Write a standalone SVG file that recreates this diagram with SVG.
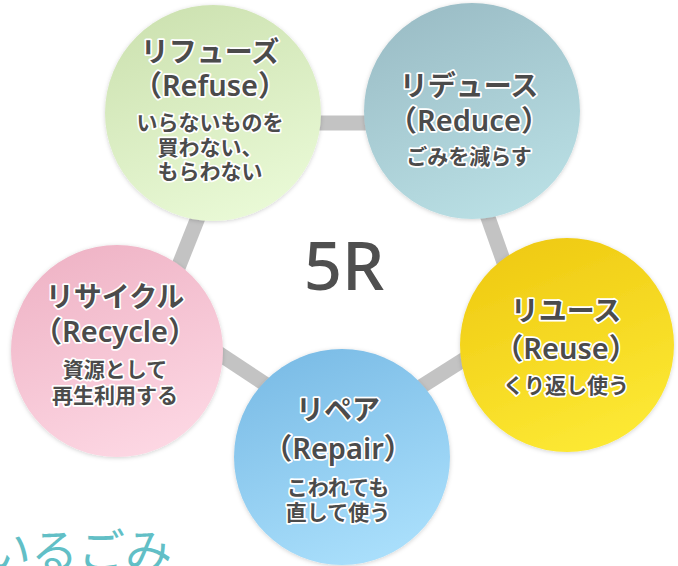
<svg xmlns="http://www.w3.org/2000/svg" width="678" height="566" viewBox="0 0 678 566">
<defs>
<linearGradient id="gRefuse" x1="0.3" y1="0" x2="0.7" y2="1"><stop offset="0" stop-color="#cde2b1"/><stop offset="1" stop-color="#eafad7"/></linearGradient>
<linearGradient id="gReduce" x1="0.3" y1="0" x2="0.7" y2="1"><stop offset="0" stop-color="#9bbdc6"/><stop offset="1" stop-color="#bae0e5"/></linearGradient>
<linearGradient id="gRecycle" x1="0.3" y1="0" x2="0.7" y2="1"><stop offset="0" stop-color="#efb4c6"/><stop offset="1" stop-color="#fdd8e4"/></linearGradient>
<linearGradient id="gReuse" x1="0.3" y1="0" x2="0.7" y2="1"><stop offset="0" stop-color="#efca12"/><stop offset="1" stop-color="#fdea35"/></linearGradient>
<linearGradient id="gRepair" x1="0.3" y1="0" x2="0.7" y2="1"><stop offset="0" stop-color="#7bbce6"/><stop offset="1" stop-color="#abe0fc"/></linearGradient>
<filter id="sh" x="-10%" y="-10%" width="120%" height="120%"><feDropShadow dx="0" dy="1" stdDeviation="2" flood-color="#000" flood-opacity="0.18"/></filter>
</defs>
<style>
.conn{stroke:#c3c3c3;stroke-width:15;fill:none}
.c{filter:url(#sh)}
text{text-anchor:middle;fill:#4b4b4b;stroke:#fff;stroke-width:3.5;stroke-linejoin:round;paint-order:stroke;font-weight:700}
.t{font-family:"Noto Sans CJK JP",sans-serif;font-size:28px}
.p{font-family:"Noto Sans","Noto Sans CJK JP",sans-serif;font-size:29px;font-weight:600}
.s{font-family:"Noto Sans CJK JP",sans-serif;font-size:21px}
.big{font-family:"Noto Sans","Noto Sans CJK JP",sans-serif;font-size:67px;font-weight:500;fill:#4f4f4f;stroke:none}
.side{font-family:"Noto Sans CJK JP",sans-serif;font-size:47px;font-weight:400;fill:#62bfc6;stroke:none;text-anchor:start}
</style>
<g id="connectors">
<line class="conn" x1="290" y1="123" x2="395" y2="123"/>
<line class="conn" x1="205" y1="200" x2="170" y2="288"/>
<line class="conn" x1="480" y1="195" x2="512" y2="285"/>
<line class="conn" x1="200" y1="341" x2="300" y2="407"/>
<line class="conn" x1="400" y1="400" x2="490" y2="343"/>
</g>
<g id="center">
<text class="big" x="344" y="290">5R</text>
</g>
<g id="refuse">
<circle class="c" cx="213" cy="113" r="108" fill="url(#gRefuse)"/>
<text class="t" x="210" y="62">リフューズ</text>
<text class="p" x="210" y="96">（Refuse）</text>
<text class="s" x="210" y="130">いらないものを</text>
<text class="s" x="210" y="155">買わない、</text>
<text class="s" x="210" y="179">もらわない</text>
</g>
<g id="reduce">
<circle class="c" cx="472" cy="111" r="108" fill="url(#gReduce)"/>
<text class="t" x="469" y="96">リデュース</text>
<text class="p" x="469" y="131">（Reduce）</text>
<text class="s" x="469" y="164">ごみを減らす</text>
</g>
<g id="recycle">
<circle class="c" cx="117" cy="351" r="106" fill="url(#gRecycle)"/>
<text class="t" x="115" y="307">リサイクル</text>
<text class="p" x="115" y="342">（Recycle）</text>
<text class="s" x="115" y="377">資源として</text>
<text class="s" x="115" y="403">再生利用する</text>
</g>
<g id="reuse">
<circle class="c" cx="567" cy="345" r="107" fill="url(#gReuse)"/>
<text class="t" x="566" y="321">リユース</text>
<text class="p" x="566" y="359">（Reuse）</text>
<text class="s" x="566" y="393">くり返し使う</text>
</g>
<g id="repair">
<circle class="c" cx="342" cy="457" r="108" fill="url(#gRepair)"/>
<text class="t" x="338" y="420">リペア</text>
<text class="p" x="338" y="459">（Repair）</text>
<text class="s" x="338" y="495">こわれても</text>
<text class="s" x="338" y="520">直して使う</text>
</g>
<g id="side-label">
<text class="side" x="-16" y="568">いるごみ</text>
</g>
</svg>
